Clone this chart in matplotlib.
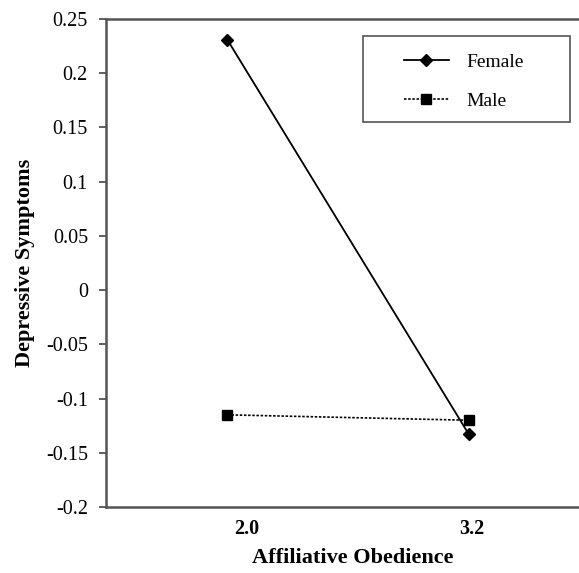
import matplotlib
matplotlib.use("Agg")
import matplotlib.pyplot as plt
import matplotlib.transforms as mtransforms
from matplotlib.patches import Rectangle

categories = ["2.0", "3.2"]
female = [0.231, -0.133]
male = [-0.115, -0.120]
y_ticks = [-0.2, -0.15, -0.1, -0.05, 0, 0.05, 0.1, 0.15, 0.2, 0.25]
y_tick_labels = ["-0.2", "-0.15", "-0.1", "-0.05", "0", "0.05", "0.1", "0.15", "0.2", "0.25"]

plt.rcParams['font.family'] = ['Liberation Serif', 'DejaVu Serif']

W, H = 579, 573
fig = plt.figure(figsize=(W/100, H/100), dpi=100)
ax = fig.add_axes([106/W, 1-507/H, 1.0 - 106/W + 0.01, (507-19)/H])

x = list(range(len(categories)))
ax.plot(x, female, color='black', lw=1.3, marker='D', markersize=6.5, label='Female')
ax.plot(x, male, color='black', lw=1.2, ls=(0, (1.5, 1)), marker='s', markersize=7, label='Male')

ax.set_xlim(-0.502, 1.48)
ax.set_ylim(-0.2, 0.25)
ax.set_yticks(y_ticks)
ax.set_yticklabels(y_tick_labels, fontsize=14.5)
ax.set_xticks(x)
ax.set_xticklabels(categories, fontsize=14.5, fontweight='bold')
ax.tick_params(axis='x', length=0, pad=9)
ax.tick_params(axis='y', direction='out', length=5, width=1.2, pad=8, color='#444444')

offsets = [19, 3]
for lbl, off in zip(ax.get_xticklabels(), offsets):
    lbl.set_transform(lbl.get_transform() + mtransforms.ScaledTranslation(off/100, 0, fig.dpi_scale_trans))

for s in ax.spines.values():
    s.set_color('#555555')
    s.set_linewidth(1.8)

ax.set_xlabel('Affiliative Obedience', fontsize=16, fontweight='bold', labelpad=6)
ax.xaxis.label.set_x(0.516)
ax.set_ylabel('Depressive Symptoms', fontsize=16, fontweight='bold', labelpad=8)

# legend without frame, frame drawn separately in figure pixel coords
leg = fig.legend(loc='upper left', bbox_to_anchor=(404/W, 1-53/H),
                 frameon=False, fontsize=14, handlelength=2.3, borderpad=0,
                 labelspacing=1.1, handletextpad=0.9, borderaxespad=0)
fig.patches.append(Rectangle((363/W, 1-122/H), (570-363)/W, (122-36)/H,
                             transform=fig.transFigure, fill=False,
                             edgecolor='#555555', linewidth=1.2))

fig.savefig('out.png', dpi=100)
